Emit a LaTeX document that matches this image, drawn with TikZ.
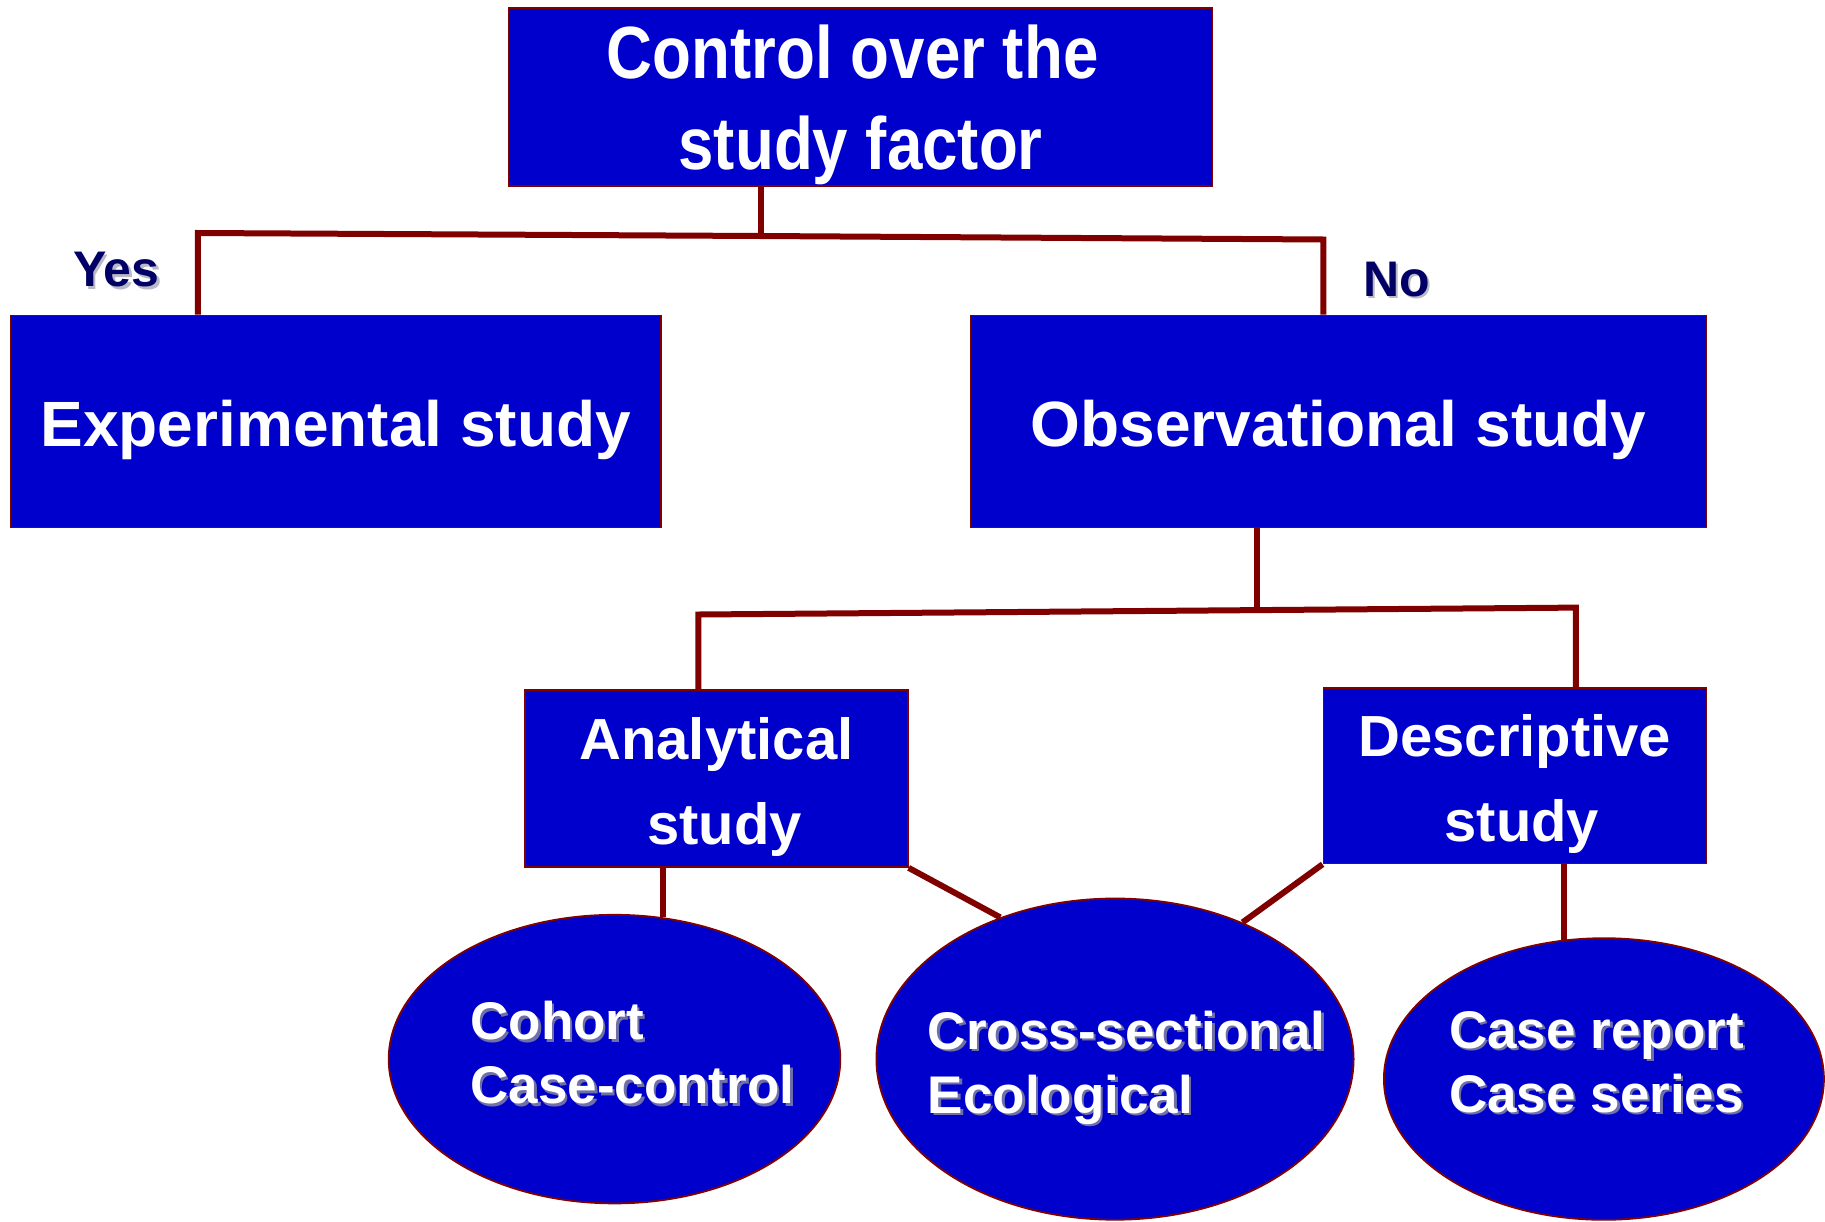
\documentclass[tikz,border=0pt]{standalone}
\usepackage{fontspec}
\setmainfont{Liberation Sans}
\newfontfamily\narrowsans[FakeStretch=0.86]{Liberation Sans}
\usetikzlibrary{shapes.geometric}
\definecolor{boxblue}{RGB}{0,0,204}
\definecolor{linkred}{RGB}{128,0,0}
\definecolor{labelnavy}{RGB}{0,0,102}
\definecolor{shadowgray}{RGB}{140,140,160}

\begin{document}
\begin{tikzpicture}[x=1pt,y=-1pt,
  box/.style={draw=linkred, line width=1.5pt, fill=boxblue, inner sep=0pt},
  boxtext/.style={text=white, align=center, inner sep=0pt},
  oval/.style={ellipse, draw=linkred, line width=1.8pt, fill=boxblue, inner sep=0pt},
  link/.style={draw=linkred, line width=6pt, line join=miter},
  ovaltext/.style={anchor=west, align=left, inner sep=0pt, text=white,
    font=\bfseries\fontsize{53}{64}\selectfont},
  ovalshadow/.style={ovaltext, text=shadowgray, opacity=0.8},
  answer/.style={inner sep=0pt, text=labelnavy, font=\bfseries\fontsize{50}{60}\selectfont},
  answershadow/.style={answer, text=shadowgray, opacity=0.6},
  bigfont/.style={font=\bfseries\fontsize{64}{77}\selectfont},
  midfont/.style={font=\bfseries\fontsize{58}{85}\selectfont}
]
\fill[white] (0,0) rectangle (1825,1221);
\useasboundingbox (0,0) rectangle (1825,1221);

% boxes
\node[box, minimum width=704pt, minimum height=178pt] (root) at (860.7,97.2) {};
\node[box, minimum width=650.6pt, minimum height=211.9pt] (exp) at (335.8,421.3) {};
\node[box, minimum width=735.6pt, minimum height=211.9pt] (obs) at (1338.5,421.3) {};
\node[box, minimum width=383pt, minimum height=177pt] (ana) at (716.4,778.6) {};
\node[box, minimum width=383pt, minimum height=175.7pt] (desc) at (1514.8,775.7) {};

% box captions
\node[boxtext, font=\narrowsans\bfseries\fontsize{74}{91}\selectfont] (rootText)
  at ([yshift=-8pt]root.center) {Control over the\hspace*{16pt}\\study factor};
\node[boxtext, bigfont] (expText) at ([yshift=-9pt]exp.center) {Experimental study};
\node[boxtext, bigfont] (obsText) at ([yshift=-9pt]obs.center) {Observational study};
\node[boxtext, midfont] (anaText) at ([yshift=-8pt]ana.center)
  {Analytical\\\hspace*{16pt}study};
\node[boxtext, midfont] (descText) at ([yshift=-8pt]desc.center)
  {Descriptive\\\hspace*{14pt}study};

% ovals
\node[oval, minimum width=451.6pt, minimum height=288.6pt] (ell1) at (614.5,1059.1) {};
\node[oval, minimum width=477.2pt, minimum height=321.2pt] (ell2) at (1115,1059.1) {};
\node[oval, minimum width=440pt, minimum height=281.6pt] (ell3) at (1603.9,1079) {};

% oval texts with soft shadow
\node[ovalshadow] (t1s) at (472.7,1055.3) {Cohort\\Case-control};
\node[ovaltext] (t1) at (470.2,1052.8) {Cohort\\Case-control};
\node[ovalshadow] (t2s) at (930.1,1070) {Cross-sectional\\Ecological};
\node[ovaltext] (t2) at (927.6,1067.5) {Cross-sectional\\Ecological};
\node[ovalshadow] (t3s) at (1451.5,1064.5) {Case report\\Case series};
\node[ovaltext] (t3) at (1449,1062) {Case report\\Case series};

% yes / no labels
\node[answershadow] (yess) at (119,272.5) {Yes};
\node[answer] (yes) at (116.4,270) {Yes};
\node[answershadow] (nos) at (1399.2,281.8) {No};
\node[answer] (no) at (1396.7,279.3) {No};

% first split
\coordinate (topJoin) at (760.5,236);
\coordinate (yesEnd) at (197.9,233);
\coordinate (noEnd) at (1323.4,239.5);
\draw[link] (root.south -| topJoin) -- (topJoin);
\draw[link] (exp.north -| yesEnd) -- (yesEnd) -- (topJoin) -- (noEnd) -- (obs.north -| noEnd);

% second split
\coordinate (midJoin) at (1257,611);
\coordinate (anaEnd) at (698.3,614.5);
\coordinate (descEnd) at (1575.9,607.6);
\draw[link] (obs.south -| midJoin) -- (midJoin);
\draw[link] (ana.north -| anaEnd) -- (anaEnd) -- (descEnd) -- (desc.north -| descEnd);

% study types to ovals
\draw[link] (ana.south -| ell1.71.5) -- (ell1.71.5);
\draw[link] (ana.south east) -- (ell2.129);
\draw[link] (desc.south west) -- (ell2.47);
\draw[link] (desc.south -| ell3.106.6) -- (ell3.106.6);
\end{tikzpicture}
\end{document}
